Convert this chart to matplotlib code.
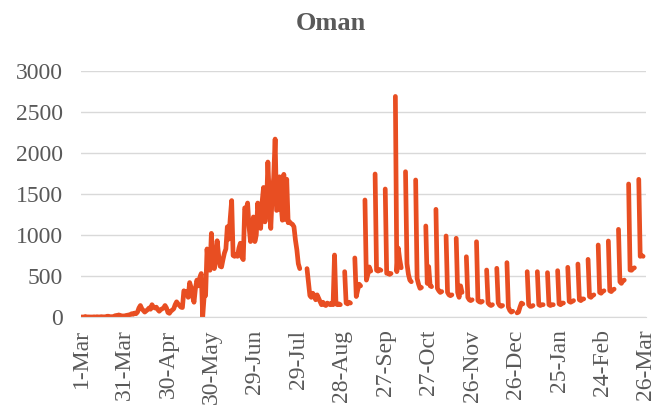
import numpy as np
import pandas as pd
import matplotlib
matplotlib.use("Agg")
import matplotlib.pyplot as plt

nan = np.nan

# daily new cases, 1-Mar-2020 .. 22-Aug-2020 (nan = no report)
cases_spring = [
    0, 0, 0, 6, 0, 1, 0, 0, 0, 2, 0, 3, 1, 1, 4,
    2, 2, 2, 9, 9, 4, 4, 4, 11, 18, 15, 25, 20, 13, 13, 13,
    18, 21, 25, 30, 40, 33, 48, 40, 60, 110, 140, 100, 80, 60, 75, 90,
    110, 95, 150, 120, 110, 120, 90, 70, 90, 100, 110, 140, 110, 55,
    45, 70, 85, 100, 150, 185, 160, 140, 120, 115,
    320, 290, 310, 240, 420, 360, 250, 180, 350, 450, 380, 480, 530,
    0, 250, 260, 830, 600, 570, 1020, 700, 590, 700, 930, 750,
    620, 610, 700, 780, 830, 1100, 950, 1200, 1420, 750, 740,
    760, 740, 840, 900, 730, 700, 1330, 1300, 1390, 1100, 920,
    1040, 1220, 920, 1000, 1390, 1200, 1080, 1400, 1580, 1160,
    1300, 1890, 1450, 1080, 1500, 1700, 2170, 1300, 1310, 1710,
    1400, 1180, 1740, 1190, 1680, 1150, 1160, 1140, 1130, 1100,
    940, 820, 650, 590, nan, nan, nan, nan,
    590, 420, 260, 240, 290, 260, 210, 270, 230, 190, 150, 180,
    150, 140, 170, 160, 150, 170, 150,
]

# weekly reporting from 23-Aug-2020 (one row per week, Sunday first)
cases_weekly = [
    [756, 160, 150, 160, 150, nan, nan],
    [553, 170, 160, 180, 170, nan, nan],
    [720, 250, 330, 400, 380, nan, nan],
    [1427, 450, 520, 610, 560, nan, nan],
    [1744, 570, 560, 580, 570, nan, nan],
    [1561, 533, 540, 520, 530, nan, nan],
    [2690, 553, 840, 700, 600, nan, nan],
    [1772, 650, 520, 450, 430, nan, nan],
    [1671, 470, 400, 350, 360, nan, nan],
    [1110, 410, 614, 380, 370, nan, nan],
    [1313, 350, 320, 300, 310, nan, nan],
    [988, 300, 270, 260, 270, nan, nan],
    [960, 300, 240, 380, 300, nan, nan],
    [735, 240, 210, 200, 210, nan, nan],
    [918, 200, 185, 180, 190, nan, nan],
    [573, 170, 150, 140, 150, nan, nan],
    [594, 170, 140, 130, 140, nan, nan],
    [663, 120, 80, 60, 70, nan, nan],
    [50, 60, 120, 170, 160, nan, nan],
    [553, 150, 130, 130, 140, nan, nan],
    [553, 150, 140, 150, 150, nan, nan],
    [541, 150, 140, 150, 150, nan, nan],
    [565, 160, 150, 170, 170, nan, nan],
    [606, 190, 180, 190, 200, nan, nan],
    [646, 210, 200, 220, 220, nan, nan],
    [703, 250, 240, 260, 270, nan, nan],
    [878, 300, 290, 310, 320, nan, nan],
    [927, 320, 310, 330, 340, nan, nan],
    [1069, 430, 410, 440, 450, nan, nan],
    [1622, 573, 570, 590, 600, nan, nan],
    [1679, 740, 750, 740],
]

start_date = "2020-03-01"
n_days = 391
tick_step = 30
y_ticks = [0, 500, 1000, 1500, 2000, 2500, 3000]

cases = np.array(cases_spring + [v for week in cases_weekly for v in week], dtype=float)
dates = pd.date_range(start_date, periods=n_days)

text_col = "#595959"
plt.rcParams["font.family"] = ["Liberation Serif", "DejaVu Serif"]

fig = plt.figure(figsize=(6.61, 4.07), dpi=100)
ax = fig.add_axes([81 / 661, 90 / 407, 565 / 661, 246 / 407])

ax.plot(np.arange(len(cases)), cases, color="#E84E22", lw=3.4,
        solid_joinstyle="round", solid_capstyle="round")

ticks = np.arange(0, n_days, tick_step)
ax.set_xticks(ticks)
ax.set_xticklabels([f"{dates[i].day}-{dates[i].strftime('%b')}" for i in ticks],
                   rotation=90, fontsize=17, color=text_col)
ax.set_xlim(0, n_days - 1)
ax.set_ylim(0, 3000)
ax.set_yticks(y_ticks)
ax.set_yticklabels([str(v) for v in y_ticks], fontsize=17, color=text_col)
ax.tick_params(axis="both", length=0)
ax.tick_params(axis="y", pad=13)
ax.tick_params(axis="x", pad=9)

ax.grid(axis="y", color="#D9D9D9", lw=1)
ax.set_axisbelow(True)
for s in ["top", "right", "left"]:
    ax.spines[s].set_visible(False)
ax.spines["bottom"].set_color("#D9D9D9")

fig.text(0.5, 1 - 23 / 407, "Oman", ha="center", va="center",
         fontsize=19, fontweight="bold", color=text_col)

fig.savefig("out.png", dpi=100)
